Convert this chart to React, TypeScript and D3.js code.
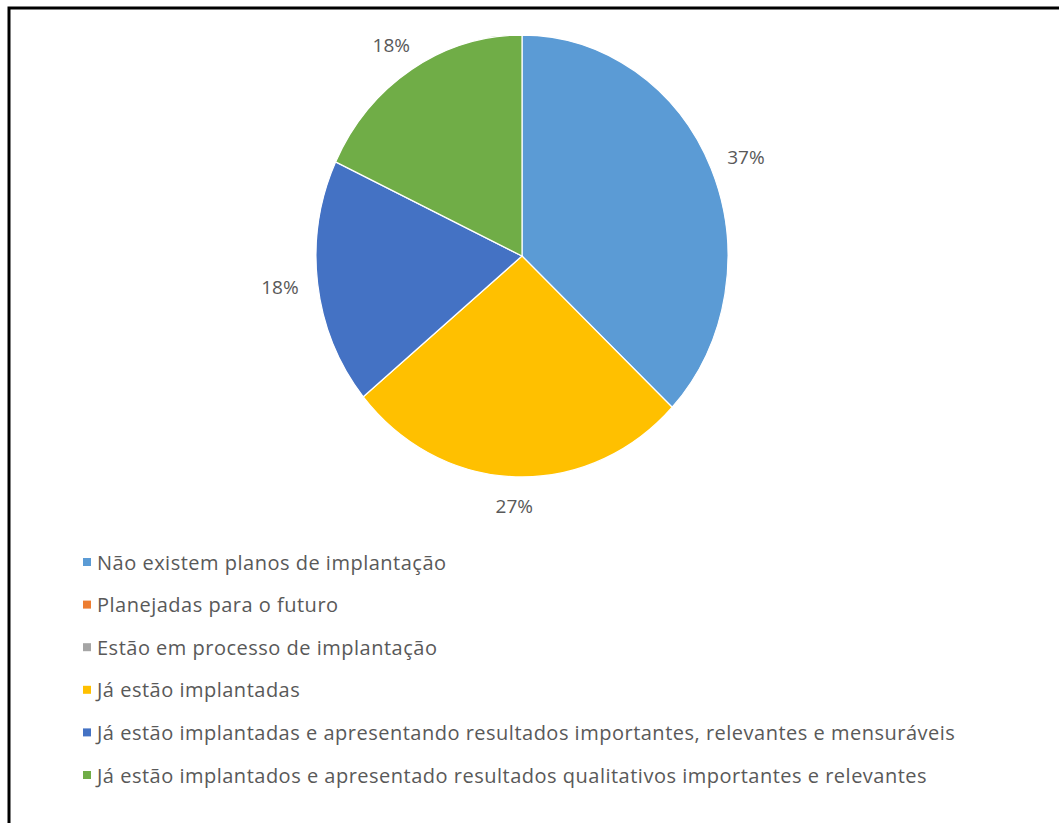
import React from "react";
import * as d3 from "d3";

const categories = [
  "Não existem planos de implantação",
  "Planejadas para o futuro",
  "Estão em processo de implantação",
  "Já estão implantadas",
  "Já estão implantadas e apresentando resultados importantes, relevantes e mensuráveis",
  "Já estão implantados e apresentado resultados qualitativos importantes e relevantes",
];
const values = [37, 0, 0, 27, 18, 18];
const colors = ["#5B9BD5", "#ED7D31", "#A5A5A5", "#FFC000", "#4472C4", "#70AD47"];

const W = 1059;
const H = 823;
const cx = 522;
const cy = 256;
const rx = 206;
const ry = 221;
const labelRx = 244;
const labelRy = 250;
const font = "'Open Sans', 'Noto Sans', sans-serif";

export default function App() {
  const pie = d3.pie<number>().sort(null).value((d) => d);
  const arcs = pie(values);
  const arc = d3.arc<d3.PieArcDatum<number>>().innerRadius(0).outerRadius(rx);
  const total = d3.sum(values);
  const legendY = d3.scaleLinear().domain([0, 5]).range([562, 775]);

  return (
    <svg width={W} height={H} style={{ position: "absolute", left: 0, top: 0, background: "#fff" }}>
      <rect x={0} y={0} width={W} height={H} fill="#fff" />
      <path d={`M9,${H} L9,8 L${W},8`} fill="none" stroke="#000" strokeWidth={3} />
      <g transform={`translate(${cx},${cy}) scale(1,${ry / rx})`}>
        {arcs.map((a, i) =>
          a.value > 0 ? (
            <path key={i} d={arc(a) || ""} fill={colors[i]} stroke="#fff" strokeWidth={1.2} />
          ) : null
        )}
      </g>
      {arcs.map((a, i) => {
        if (a.value <= 0) return null;
        const mid = (a.startAngle + a.endAngle) / 2;
        const x = cx + labelRx * Math.sin(mid);
        const y = cy - labelRy * Math.cos(mid);
        return (
          <text
            key={i}
            x={x}
            y={y}
            textAnchor="middle"
            dominantBaseline="central"
            fontFamily={font}
            fontSize={19}
            fill="#595959"
          >
            {`${Math.round((a.value / total) * 100)}%`}
          </text>
        );
      })}
      {categories.map((c, i) => (
        <g key={i}>
          <rect x={83} y={legendY(i) - 4} width={8} height={8} fill={colors[i]} />
          <text
            x={97}
            y={legendY(i)}
            dominantBaseline="central"
            fontFamily={font}
            fontSize={20}
            letterSpacing={0.5}
            fill="#595959"
          >
            {c}
          </text>
        </g>
      ))}
    </svg>
  );
}
